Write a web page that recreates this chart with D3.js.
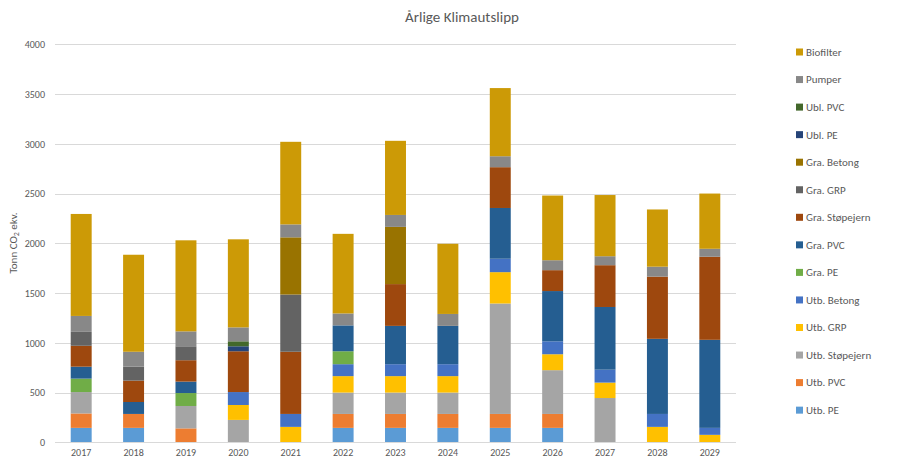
<!DOCTYPE html>
<html><head><meta charset="utf-8">
<script src="https://cdn.jsdelivr.net/npm/d3@7"></script>
<style>body{margin:0;background:#fff;font-family:Calibri,Carlito,"Open Sans","Liberation Sans",sans-serif;}</style>
</head><body>
<svg id="chart" width="923" height="472"></svg>
<script>
const years = ["2017","2018","2019","2020","2021","2022","2023","2024","2025","2026","2027","2028","2029"];
const seriesNames = ["Utb. PE","Utb. PVC","Utb. Støpejern","Utb. GRP","Utb. Betong","Gra. PE","Gra. PVC","Gra. Støpejern","Gra. GRP","Gra. Betong","Ubl. PE","Ubl. PVC","Pumper","Biofilter"];
const seriesColors = ["#5B9BD5","#ED7D31","#A5A5A5","#FFC000","#4472C4","#70AD47","#255E91","#9E480E","#636363","#997300","#264478","#43682B","#888888","#CC9A06"];
const utbPE       = [145,145,0,0,0,145,145,145,145,145,0,0,0];
const utbPVC      = [145,140,140,0,0,140,140,140,140,140,0,0,0];
const utbStopejern= [215,0,225,225,0,215,215,215,1110,440,445,0,0];
const utbGRP      = [0,0,0,150,155,165,165,165,315,160,155,155,75];
const utbBetong   = [0,0,0,130,130,120,120,120,135,130,130,130,70];
const graPE       = [135,0,130,0,0,130,0,0,0,0,0,0,0];
const graPVC      = [120,120,115,0,0,260,385,385,510,505,630,755,885];
const graStopejern= [210,215,215,410,625,0,420,0,410,210,420,625,835];
const graGRP      = [140,140,140,0,575,0,0,0,0,0,0,0,0];
const graBetong   = [0,0,0,0,575,0,575,0,0,0,0,0,0];
const ublPE       = [0,0,0,50,0,0,0,0,0,0,0,0,0];
const ublPVC      = [0,0,0,50,0,0,0,0,0,0,0,0,0];
const pumper      = [160,150,150,140,130,120,120,120,110,100,90,100,80];
const biofilter   = [1025,975,915,885,830,800,745,705,685,650,615,575,555];
const yTicks = [0,500,1000,1500,2000,2500,3000,3500,4000];

const seriesValues = [utbPE,utbPVC,utbStopejern,utbGRP,utbBetong,graPE,graPVC,graStopejern,graGRP,graBetong,ublPE,ublPVC,pumper,biofilter];
const table = years.map((y,i)=>{const r={year:y}; seriesNames.forEach((s,j)=>r[s]=seriesValues[j][i]); return r;});

const svg = d3.select("#chart");
const m = {left:55, right:187, top:45, bottom:30};
const W = 923, H = 472;
const x = d3.scaleBand().domain(years).range([m.left, W-m.right]).paddingInner(0.6).paddingOuter(0.3);
const y = d3.scaleLinear().domain([0,4000]).range([442.3, 44.3]);
const color = d3.scaleOrdinal().domain(seriesNames).range(seriesColors);
const textCol = "#595959";

// gridlines
svg.append("g").selectAll("line").data(yTicks.filter(d=>d>0)).join("line")
  .attr("x1", m.left).attr("x2", W-m.right)
  .attr("y1", d=>Math.round(y(d))+0.5).attr("y2", d=>Math.round(y(d))+0.5)
  .attr("stroke","#d9d9d9").attr("stroke-width",1);

// y axis labels
const yAxis = d3.axisLeft(y).tickValues(yTicks).tickFormat(d3.format("d")).tickSize(0).tickPadding(0);
const yg = svg.append("g").attr("transform",`translate(45,0)`).call(yAxis);
yg.select(".domain").remove();
yg.selectAll("text").attr("fill",textCol).style("font-size","10px").style("font-family","Calibri,Carlito,'Open Sans',sans-serif");

// bars
const stack = d3.stack().keys(seriesNames)(table);
svg.append("g").selectAll("g").data(stack).join("g").attr("fill", d=>color(d.key))
  .selectAll("rect").data(d=>d.filter(p=>p[1]-p[0]>0)).join("rect")
  .attr("x", d=>x(d.data.year)).attr("width", x.bandwidth())
  .attr("y", d=>y(d[1])).attr("height", d=>y(d[0])-y(d[1]));

// baseline
svg.append("line").attr("x1",m.left).attr("x2",W-m.right)
  .attr("y1",442.5).attr("y2",442.5).attr("stroke","#d9d9d9");

// x axis
const xAxis = d3.axisBottom(x).tickSize(0).tickPadding(0);
const xg = svg.append("g").attr("transform","translate(0,449)").call(xAxis);
xg.select(".domain").remove();
xg.selectAll("text").attr("fill",textCol).style("font-size","10px").style("font-family","Calibri,Carlito,'Open Sans',sans-serif");

// title
svg.append("text").attr("x",462).attr("y",22).attr("text-anchor","middle")
  .attr("fill",textCol).style("font-size","15px").text("Årlige Klimautslipp");

// y label
const yl = svg.append("text").attr("transform","translate(17,243) rotate(-90)").attr("text-anchor","middle")
  .attr("fill",textCol).style("font-size","11px");
yl.append("tspan").text("Tonn CO");
yl.append("tspan").attr("dy","2").style("font-size","8px").text("2");
yl.append("tspan").attr("dy","-2").text(" ekv.");

// legend
const legendOrder = seriesNames.slice().reverse();
const lg = svg.append("g").selectAll("g").data(legendOrder).join("g")
  .attr("transform",(d,i)=>`translate(796,${52 + i*27.55})`);
lg.append("rect").attr("x",0).attr("y",-3.5).attr("width",7).attr("height",7).attr("fill",d=>color(d));
lg.append("text").attr("x",10).attr("y",0).attr("dy","0.35em").attr("fill",textCol)
  .style("font-size","11px").text(d=>d);
</script>
</body></html>
